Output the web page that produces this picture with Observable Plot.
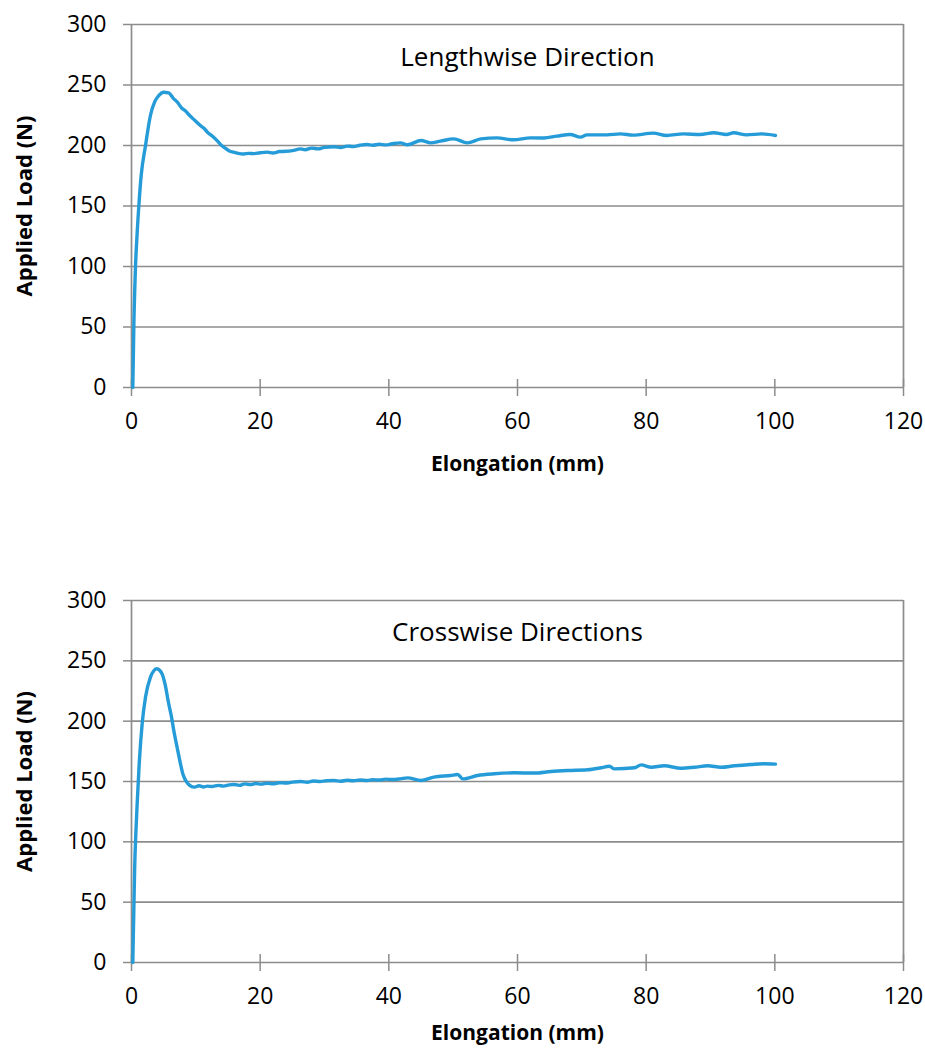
<!DOCTYPE html>
<html><head><meta charset="utf-8">
<script src="https://cdn.jsdelivr.net/npm/d3@7"></script>
<script src="https://cdn.jsdelivr.net/npm/@observablehq/plot@0.6"></script>
<style>
html,body{margin:0;padding:0;background:#fff;overflow:hidden}
svg{display:block}
</style>
</head><body>
<div id="top"></div><div id="bottom"></div>
<script>
const elongTicks = [0, 20, 40, 60, 80, 100, 120];
const loadTicks = [0, 50, 100, 150, 200, 250, 300];
const titles = ["Lengthwise Direction", "Crosswise Directions"];
const xLabel = "Elongation (mm)";
const yLabel = "Applied Load (N)";

const lengthwiseElong = [0.2,0.3,0.36,0.5,0.62,0.8,1.14,1.5,2.18,2.95,3.6,4.2,5.0,5.8,6.5,7.1,7.8,8.4,9.0,9.6,10.2,10.7,11.3,11.8,12.5,13.3,14.0,14.4,15.2,15.9,16.6,17.4,18.2,19.0,20.0,21.1,22.0,23.0,24.0,25.0,26.3,27.0,28.0,29.0,30.0,31.5,32.5,33.5,34.5,35.5,36.6,37.5,38.5,39.5,40.5,41.8,42.9,45.0,46.5,48.0,50.1,52.2,54.3,56.8,59.4,62.0,64.1,66.1,68.2,69.8,70.8,73.9,76.0,78.0,81.1,83.2,85.8,88.4,90.5,92.5,93.6,95.6,98.0,100.1];
const lengthwiseLoad = [0,30,50,80,100,120,150,175,200,225,236,241,244,243.5,239,236,231,228.5,225,222,219,216.5,214,211,208,204,200,198.5,195.5,194.5,193.5,193,193.5,193.3,194,194.5,193.8,195,195.2,195.8,197.2,196.5,197.8,197.2,198.5,199,198.4,199.5,199.2,200.2,200.8,200.2,201,200.5,201.4,202.2,200.6,204.1,202.2,203.6,205.5,202.2,205.5,206.3,204.7,206.3,206.2,207.7,209.1,206.9,208.8,208.8,209.6,208.6,210.2,208.3,209.6,209.1,210.5,209.1,210.5,208.8,209.6,208.3];

const crosswiseElong = [0.2,0.35,0.5,0.7,0.88,1.2,1.66,2.18,2.95,3.5,3.9,4.4,4.77,5.2,5.8,6.2,6.58,7.1,7.6,8.0,8.4,9.0,9.7,10.5,11.2,11.8,12.5,13.5,14.3,15.2,15.9,16.8,17.6,18.5,19.3,20.2,21.1,22.0,23.0,24.0,25.0,26.3,27.3,28.3,29.3,30.3,31.5,32.5,33.5,34.5,35.5,36.6,37.5,38.5,39.5,40.5,41.8,42.9,45.0,47.0,49.6,50.7,51.5,53.8,56.4,59.5,62.6,65.2,67.8,70.9,73.0,74.3,75.0,78.2,79.2,80.8,82.8,85.4,87.5,89.6,91.6,93.7,96.3,98.3,100.1];
const crosswiseLoad = [0,40,80,110,131.5,165,198,220,236.5,242,243.4,242,239,231,214,204,192,178,165,156,151,147,145.3,146.5,145.5,146.2,145.8,146.8,146.2,147.2,147.5,146.8,148,147.4,148.3,147.8,148.6,148.1,149,148.7,149.5,150,149.4,150.4,150,150.6,150.8,150.2,151,150.6,151.3,150.8,151.5,151.2,152,151.6,152.2,153.0,150.8,153.6,155.0,155.8,152.2,155.0,156.4,157.2,157.0,158.3,159.1,159.7,161.4,162.7,160.5,161.4,163.8,161.8,163.0,161.0,161.8,163.0,161.8,163.0,164.1,164.7,164.4];

const GRID = "#8c8c8c";
const LINE = "#259cd8";
const FONT = "'Open Sans', 'Liberation Sans', sans-serif";

function makeChart({elong, load, title, titleDx, titleDy, xLabelDy, height, marginTop, marginBottom}) {
  const data = elong.map((x, i) => ({x, y: load[i]}));
  return Plot.plot({
    width: 925, height, marginTop, marginBottom, marginLeft: 131, marginRight: 22,
    style: {fontFamily: FONT, fontSize: "23px", background: "#fff", color: "#000"},
    x: {domain: [elongTicks[0], elongTicks[elongTicks.length - 1]], axis: null},
    y: {domain: [loadTicks[0], loadTicks[loadTicks.length - 1]], axis: null},
    marks: [
      Plot.gridY(loadTicks, {stroke: GRID, strokeOpacity: 1, strokeWidth: 1.7}),
      Plot.ruleX([elongTicks[0], elongTicks[elongTicks.length - 1]], {stroke: GRID, strokeWidth: 1.7}),
      Plot.axisY(loadTicks, {tickSize: 8, tickPadding: 17, stroke: GRID, strokeWidth: 1.5, fill: "#000", label: null, fontSize: 23}),
      Plot.axisX(elongTicks, {tickSize: 17, dy: -8, stroke: GRID, strokeWidth: 1.5, tickFormat: () => "", label: null}),
      Plot.axisX(elongTicks, {tickSize: 0, tickPadding: 25, fill: "#000", label: null, fontSize: 23}),
      Plot.line(data, {x: "x", y: "y", stroke: LINE, strokeWidth: 3.4, curve: "monotone-x", strokeLinejoin: "round", strokeLinecap: "round"}),
      Plot.text([title], {text: d => d, frameAnchor: "top", dx: titleDx, dy: titleDy, fontSize: 26, lineAnchor: "middle", fill: "#000"}),
      Plot.text([xLabel], {text: d => d, frameAnchor: "bottom", dy: xLabelDy, fontSize: 21, fontWeight: "bold", lineAnchor: "middle", fill: "#000"}),
      Plot.text([yLabel], {text: d => d, frameAnchor: "left", dx: -107, rotate: -90, fontSize: 22, fontWeight: "bold", lineAnchor: "middle", textAnchor: "middle", fill: "#000"})
    ]
  });
}

document.getElementById("top").append(makeChart({
  elong: lengthwiseElong, load: lengthwiseLoad, title: titles[0], titleDx: 10, titleDy: 33, xLabelDy: 77,
  height: 525, marginTop: 24, marginBottom: 138
}));
document.getElementById("bottom").append(makeChart({
  elong: crosswiseElong, load: crosswiseLoad, title: titles[1], titleDx: 0, titleDy: 32, xLabelDy: 71,
  height: 525, marginTop: 75, marginBottom: 88
}));
</script>
</body></html>
